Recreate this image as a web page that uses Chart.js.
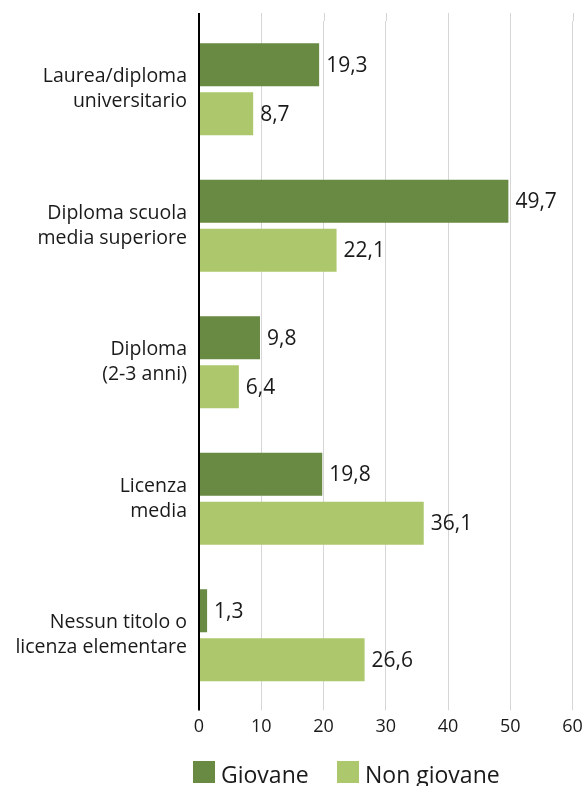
<!DOCTYPE html>
<html>
<head>
<meta charset="utf-8">
<script src="https://cdn.jsdelivr.net/npm/chart.js@4.4.1/dist/chart.umd.min.js"></script>
<style>
  html, body { margin: 0; padding: 0; background: #ffffff; }
  #wrap { position: relative; width: 582px; height: 786px; overflow: hidden; }
  #c { position: absolute; left: 0; top: 0; }
  .lg { position: absolute; font-family: "Open Sans", sans-serif; font-size: 23px; color: #1a1a1a; line-height: 1; white-space: nowrap; }
  .sw { position: absolute; width: 22px; height: 22px; }
</style>
</head>
<body>
<div id="wrap">
  <canvas id="c" width="582" height="786"></canvas>
  <div id="legend"></div>
</div>
<script>
// ---- data ----
const categories = [
  ["Laurea/diploma", "universitario"],
  ["Diploma scuola", "media superiore"],
  ["Diploma", "(2-3 anni)"],
  ["Licenza", "media"],
  ["Nessun titolo o", "licenza elementare"]
];
const seriesNames = ["Giovane", "Non giovane"];
const giovane = [19.3, 49.7, 9.8, 19.8, 1.3];
const nonGiovane = [8.7, 22.1, 6.4, 36.1, 26.6];
const xTicks = [0, 10, 20, 30, 40, 50, 60];

const colors = ["#688a42", "#acc76c"];
const textColor = "#1a1a1a";
const gridColor = "#d6d6d6";

const valueLabels = {
  id: "valueLabels",
  afterDatasetsDraw(chart) {
    const ctx = chart.ctx;
    ctx.save();
    ctx.font = "21px 'Open Sans', sans-serif";
    ctx.fillStyle = textColor;
    ctx.textAlign = "left";
    ctx.textBaseline = "middle";
    chart.data.datasets.forEach((ds, di) => {
      const meta = chart.getDatasetMeta(di);
      meta.data.forEach((el, i) => {
        const txt = ds.data[i].toFixed(1).replace(".", ",");
        ctx.fillText(txt, el.x + 7, el.y + 1);
      });
    });
    ctx.restore();
  }
};

const gridExt = {
  id: "gridExt",
  beforeDatasetsDraw(chart) {
    const ctx = chart.ctx;
    const a = chart.chartArea;
    const xs = chart.scales.x;
    ctx.save();
    ctx.strokeStyle = gridColor;
    ctx.lineWidth = 1;
    xs.ticks.forEach(t => {
      const px = Math.round(xs.getPixelForValue(t.value)) + 0.5;
      ctx.beginPath();
      ctx.moveTo(px, a.top - 8);
      ctx.lineTo(px, a.top);
      ctx.stroke();
    });
    ctx.restore();
  },
  afterDatasetsDraw(chart) {
    const ctx = chart.ctx;
    const a = chart.chartArea;
    const x0 = chart.scales.x.getPixelForValue(0);
    ctx.save();
    ctx.strokeStyle = "#000000";
    ctx.lineWidth = 2;
    ctx.beginPath();
    ctx.moveTo(x0, a.top - 8);
    ctx.lineTo(x0, a.bottom + 7);
    ctx.stroke();
    ctx.restore();
  }
};

const chart = new Chart(document.getElementById("c"), {
  type: "bar",
  data: {
    labels: categories,
    datasets: [
      { label: seriesNames[0], data: giovane, backgroundColor: colors[0] },
      { label: seriesNames[1], data: nonGiovane, backgroundColor: colors[1] }
    ]
  },
  options: {
    indexAxis: "y",
    responsive: false,
    animation: false,
    devicePixelRatio: 1,
    barPercentage: 0.878,
    categoryPercentage: 0.718,
    layout: { padding: { top: 21, right: 9.5, bottom: 42, left: 0 } },
    plugins: {
      legend: { display: false },
      tooltip: { enabled: false }
    },
    scales: {
      x: {
        min: 0,
        max: 60,
        afterBuildTicks(scale) { scale.ticks = xTicks.map(v => ({ value: v })); },
        afterFit(scale) { scale.paddingLeft = 0; scale.paddingRight = 0; },
        grid: { color: gridColor, lineWidth: 1, drawTicks: true, tickLength: 7 },
        border: { display: false },
        ticks: {
          color: textColor,
          font: { family: "'Open Sans', sans-serif", size: 18 },
          padding: 6
        }
      },
      y: {
        grid: { display: false, drawTicks: false },
        border: { display: false },
        afterFit(scale) { scale.width = 199; scale.paddingTop = 0; scale.paddingBottom = 0; },
        ticks: {
          color: textColor,
          padding: 12,
          font: { family: "'Open Sans', sans-serif", size: 19.5, lineHeight: 25 / 19.5 }
        }
      }
    }
  },
  plugins: [gridExt, valueLabels]
});

// HTML legend (real text), built from the dataset names/colors
const legend = document.getElementById("legend");
const lgPos = [193, 337];
seriesNames.forEach((name, i) => {
  const sw = document.createElement("div");
  sw.className = "sw";
  sw.style.left = lgPos[i] + "px";
  sw.style.top = "761px";
  sw.style.background = colors[i];
  legend.appendChild(sw);
  const t = document.createElement("div");
  t.className = "lg";
  t.style.left = (lgPos[i] + 28) + "px";
  t.style.top = "763px";
  t.textContent = name;
  legend.appendChild(t);
});
</script>
</body>
</html>
